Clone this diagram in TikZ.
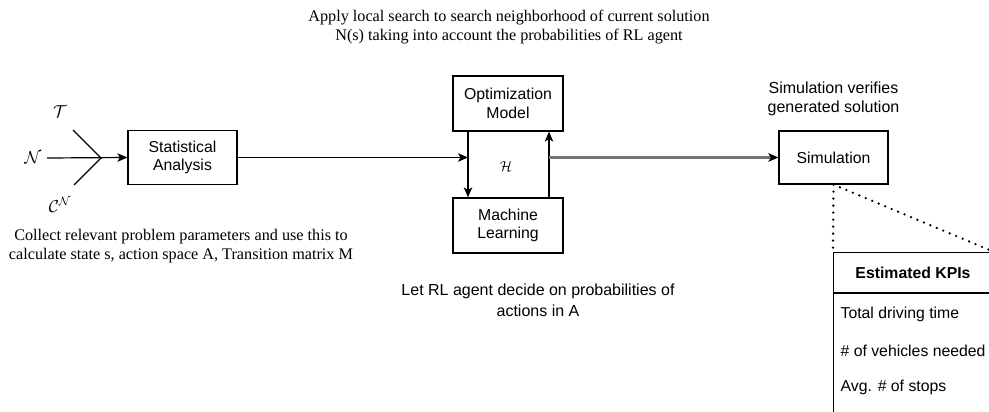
\documentclass[tikz,border=0pt]{standalone}
\usepackage{fontspec}
\setmainfont{Liberation Serif}
\setsansfont{Liberation Sans}
\usetikzlibrary{arrows.meta}

\begin{document}
\begin{tikzpicture}[x=1pt,y=-1pt,
  line width=1.2pt,
  box/.style={draw, line width=1.2pt, minimum width=110pt, minimum height=55pt,
    align=center, inner sep=0pt, font=\sffamily\fontsize{15.8}{18.5}\selectfont},
  sanstext/.style={align=center, inner sep=0pt, font=\sffamily\fontsize{16}{21}\selectfont},
  seriftext/.style={align=center, inner sep=0pt, font=\rmfamily\fontsize{16.2}{19.5}\selectfont},
  rowtext/.style={anchor=west, inner sep=0pt, font=\sffamily\fontsize{15.8}{18}\selectfont},
  bigmath/.style={inner sep=0pt, font=\fontsize{17.28}{20}\selectfont},
  arr/.style={-{Stealth[length=10pt,width=8.5pt,inset=2.5pt]}},
  grayarr/.style={draw=black!55, line width=2.2pt, -{Stealth[length=10pt,width=8.5pt,inset=2.5pt,color=black]}},
  dotline/.style={line width=2.6pt, dash pattern=on 0pt off 7pt, line cap=round}
]
\useasboundingbox (0,0) rectangle (989,412);

% header text above the optimisation loop
\node[seriftext] (toptext) at (509,27)
  {Apply local search to search neighborhood of current solution\\
   N(s) taking into account the probabilities of RL agent};

% inputs merging into the statistical analysis
\node[bigmath] (inN) at (33,158) {$\mathcal{N}$};
\node[bigmath] (inT) at (60,112) {$\mathcal{T}$};
\node[bigmath] (inC) at (60,205) {$\mathcal{C}^{\mathcal{N}}$};
\coordinate (nstart) at (47,158);
\coordinate (join) at (101,158);
\coordinate (tend) at (73,130);
\coordinate (cend) at (74,185);

\node[box, minimum width=109pt, minimum height=54pt] (stat) at (182.5,157.5) {Statistical\\Analysis};
\node[seriftext] (stattext) at (181,246)
  {Collect relevant problem parameters and use this to\\
   calculate state s, action space A, Transition matrix M};

\draw (tend) -- (join) -- (cend);
\draw[arr] (nstart) -- (stat.west);

% optimisation / learning loop
\node[box] (opt) at (508,103.5) {Optimization\\Model};
\node[box] (ml) at (508,225.5) {Machine\\Learning};
\node[inner sep=0pt, font=\fontsize{15.5}{18}\selectfont] (hlabel) at (506,167) {$\mathcal{H}$};
\coordinate (lft) at (468,158);
\coordinate (rgt) at (549,158);

\draw[arr] (opt.south -| lft) -- (ml.north -| lft);
\draw[arr] (ml.north -| rgt) -- (opt.south -| rgt);
\draw[arr] (stat.east) -- (stat.east -| lft);

\node[sanstext] (mltext) at (538,300)
  {Let RL agent decide on probabilities of\\actions in A};

% simulation
\node[box, minimum width=109pt, minimum height=53pt] (sim) at (833.5,157.5) {Simulation};
\node[sanstext, font=\sffamily\fontsize{16}{19}\selectfont] (simtext) at (833.5,99)
  {Simulation verifies\\generated solution};
\draw[grayarr] (sim.west -| rgt) -- (sim.west);

% KPI table
\begin{scope}
  \clip (0,0) rectangle (989,412);
  \node[draw, line width=1.2pt, anchor=north west, minimum width=160pt,
        minimum height=200pt, inner sep=0pt] (tbl) at (833,252) {};
  \coordinate (hdr) at (833,293);
  \draw (hdr) -- (hdr -| tbl.east);
  \node[inner sep=0pt, font=\sffamily\bfseries\fontsize{15.8}{18}\selectfont] (ttitle) at (913,273) {Estimated KPIs};
  \node[rowtext] (kpi1) at (840,314) {Total driving time};
  \node[rowtext] (kpi2) at (840,351) {\# of vehicles needed};
  \node[rowtext] (kpi3) at (840,387) {Avg. \# of stops};
  \draw[dotline] (sim.south) -- (tbl.north west);
  \draw[dotline] (sim.south) -- (tbl.north east);
\end{scope}
\end{tikzpicture}
\end{document}
